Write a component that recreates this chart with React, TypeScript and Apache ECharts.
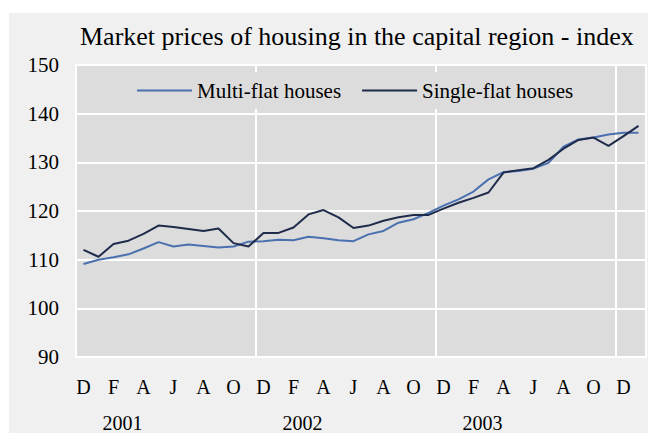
import React, { useEffect, useRef } from "react";
import * as echarts from "echarts";

const months = [
  "D", "J", "F", "M", "A", "M", "J", "J", "A", "S", "O", "N",
  "D", "J", "F", "M", "A", "M", "J", "J", "A", "S", "O", "N",
  "D", "J", "F", "M", "A", "M", "J", "J", "A", "S", "O", "N",
  "D", "J",
];
const years = [
  "", "", "", "2001", "", "", "", "", "", "", "", "",
  "", "", "", "2002", "", "", "", "", "", "", "", "",
  "", "", "", "2003", "", "", "", "", "", "", "", "",
  "", "",
];
const multiFlat = [
  109.1, 110.0, 110.5, 111.1, 112.3, 113.6, 112.7, 113.1, 112.8, 112.5, 112.7, 113.7,
  113.8, 114.1, 114.0, 114.7, 114.4, 114.0, 113.8, 115.2, 115.9, 117.6, 118.3, 119.6,
  121.1, 122.4, 124.0, 126.5, 128.0, 128.2, 128.7, 129.9, 133.2, 134.7, 135.1, 135.7,
  136.1, 136.1,
];
const singleFlat = [
  112.0, 110.6, 113.2, 113.9, 115.3, 117.0, 116.7, 116.3, 115.9, 116.4, 113.4, 112.7,
  115.5, 115.5, 116.6, 119.3, 120.2, 118.7, 116.5, 117.0, 118.0, 118.7, 119.2, 119.2,
  120.5, 121.7, 122.7, 123.8, 127.9, 128.4, 128.8, 130.5, 132.8, 134.6, 135.1, 133.4,
  135.4, 137.5,
];
const yTicks = { min: 90, max: 150, interval: 10 };

const FONT = "'Liberation Serif', 'Times New Roman', serif";

export default function App() {
  const ref = useRef<HTMLDivElement>(null);
  useEffect(() => {
    if (!ref.current) return;
    const chart = echarts.init(ref.current, null, { renderer: "svg" });
    chart.setOption({
      animation: false,
      backgroundColor: "#f0f0f0",
      title: {
        text: "Market prices of housing in the capital region - index",
        left: 71,
        top: 10,
        padding: 0,
        textStyle: { fontFamily: FONT, fontSize: 26, fontWeight: "normal", color: "#000", lineHeight: 26 },
      },
      legend: {
        left: 118,
        top: 59,
        padding: [8, 10, 8, 10],
        backgroundColor: "#dcdcdc",
        icon: "rect",
        itemWidth: 55,
        itemHeight: 2,
        itemGap: 21,
        textStyle: { fontFamily: FONT, fontSize: 21, color: "#000" },
        data: ["Multi-flat houses", "Single-flat houses"],
      },
      grid: {
        left: 67,
        top: 52,
        right: 2,
        bottom: 76,
        show: true,
        backgroundColor: "#dcdcdc",
        borderColor: "#ffffff",
        borderWidth: 2,
      },
      xAxis: [
        {
          type: "category",
          data: months,
          boundaryGap: true,
          axisLine: { show: false },
          axisTick: { show: false },
          axisLabel: {
            interval: 1,
            margin: 20,
            fontFamily: FONT,
            fontSize: 20,
            color: "#000",
          },
          splitLine: {
            show: true,
            interval: (index: number) => index === 12 || index === 24 || index === 36,
            lineStyle: { color: "#ffffff", width: 2 },
          },
        },
        {
          type: "category",
          data: years,
          position: "bottom",
          offset: 36,
          boundaryGap: true,
          axisLine: { show: false },
          axisTick: { show: false },
          splitLine: { show: false },
          axisLabel: {
            interval: 0,
            margin: 20,
            padding: [0, 12, 0, 0],
            fontFamily: FONT,
            fontSize: 20,
            color: "#000",
          },
        },
      ],
      yAxis: {
        type: "value",
        min: yTicks.min,
        max: yTicks.max,
        interval: yTicks.interval,
        axisLine: { show: false },
        axisTick: { show: false },
        axisLabel: { margin: 17, fontFamily: FONT, fontSize: 21, color: "#000" },
        splitLine: { show: true, lineStyle: { color: "#ffffff", width: 2 } },
      },
      series: [
        {
          name: "Multi-flat houses",
          type: "line",
          xAxisIndex: 0,
          data: multiFlat,
          symbol: "none",
          lineStyle: { color: "#4a70b0", width: 2 },
          itemStyle: { color: "#4a70b0" },
        },
        {
          name: "Single-flat houses",
          type: "line",
          xAxisIndex: 0,
          data: singleFlat,
          symbol: "none",
          lineStyle: { color: "#1f2b4a", width: 2 },
          itemStyle: { color: "#1f2b4a" },
        },
      ],
    });
    return () => chart.dispose();
  }, []);
  return (
    <div
      ref={ref}
      style={{ position: "absolute", left: 9, top: 13, width: 639, height: 420 }}
    />
  );
}
